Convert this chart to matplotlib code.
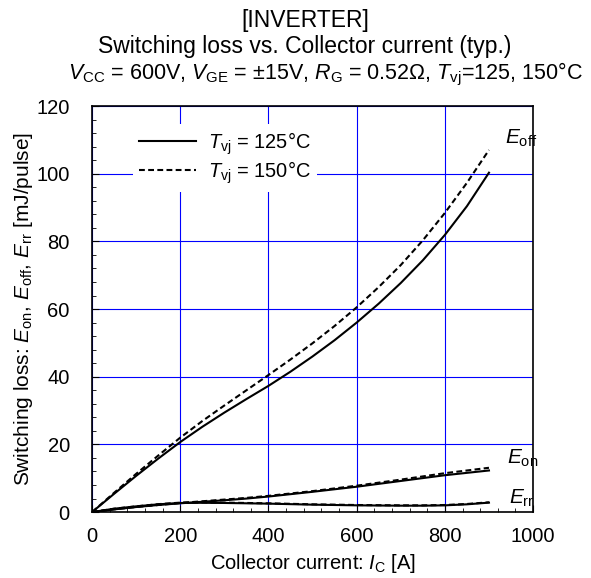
import matplotlib
matplotlib.use("Agg")
import matplotlib.pyplot as plt
from matplotlib.ticker import MultipleLocator

plt.rcParams['font.family'] = ['Liberation Sans', 'DejaVu Sans']
plt.rcParams['mathtext.fontset'] = 'custom'
plt.rcParams['mathtext.rm'] = 'Liberation Sans'
plt.rcParams['mathtext.it'] = 'Liberation Sans:italic'

# collector current [A]
ic = [0, 50, 100, 150, 200, 250, 300, 350, 400, 450, 500, 550, 600,
      650, 700, 750, 800, 850, 900]

# Eoff [mJ/pulse]
eoff_125 = [0, 5.4, 10.7, 15.8, 20.7, 25.2, 29.4, 33.4, 37.3, 41.5, 46.0, 50.8, 56.0,
            61.6, 67.7, 74.4, 81.9, 90.4, 100.3]
eoff_150 = [0, 5.7, 11.3, 16.7, 22.0, 26.9, 31.5, 36.0, 40.5, 45.1, 49.9, 55.0, 60.5,
            66.5, 73.0, 80.3, 88.4, 97.3, 107.0]

# Eon
eon_125 = [0, 0.8, 1.5, 2.1, 2.6, 3.05, 3.5, 4.0, 4.6, 5.3, 6.0, 6.75, 7.5,
           8.35, 9.2, 10.05, 10.9, 11.6, 12.3]
eon_150 = [0, 0.8, 1.5, 2.1, 2.7, 3.2, 3.7, 4.2, 4.8, 5.5, 6.2, 7.0, 7.8,
           8.7, 9.6, 10.55, 11.5, 12.3, 13.1]

# Err
err_125 = [0, 1.0, 1.7, 2.3, 2.7, 2.75, 2.7, 2.6, 2.5, 2.35, 2.2, 2.1, 2.0,
           1.95, 1.9, 1.9, 2.0, 2.3, 2.8]
err_150 = [0, 1.0, 1.7, 2.35, 2.8, 2.85, 2.8, 2.7, 2.6, 2.45, 2.3, 2.2, 2.1,
           2.05, 2.0, 2.0, 2.1, 2.4, 2.9]

dash = (0, (2.8, 1.6))

fig = plt.figure(figsize=(5.91, 5.78), dpi=100)
ax = fig.add_axes([0.1557, 0.114, 0.7463, 0.7026])

ax.grid(True, which='major', color='#0000ff', linewidth=0.8)
ax.set_axisbelow(True)

ax.plot(ic, eoff_125, color='black', lw=1.5, label=r'$\mathit{T}_{\mathrm{vj}}$ = 125°C')
ax.plot(ic, eoff_150, color='black', lw=1.5, ls=dash, label=r'$\mathit{T}_{\mathrm{vj}}$ = 150°C')
ax.plot(ic, eon_125, color='black', lw=1.5)
ax.plot(ic, eon_150, color='black', lw=1.5, ls=dash)
ax.plot(ic, err_125, color='black', lw=1.5)
ax.plot(ic, err_150, color='black', lw=1.5, ls=dash)

ax.set_xlim(0, 1000)
ax.set_ylim(0, 120)
ax.xaxis.set_major_locator(MultipleLocator(200))
ax.xaxis.set_minor_locator(MultipleLocator(40))
ax.yaxis.set_major_locator(MultipleLocator(20))
ax.yaxis.set_minor_locator(MultipleLocator(4))
ax.tick_params(which='both', direction='in', labelsize=14.5)
ax.tick_params(which='major', length=5)
ax.tick_params(which='minor', length=3)
ax.tick_params(axis='x', pad=11)
ax.tick_params(axis='y', pad=16)
for s in ax.spines.values():
    s.set_linewidth(1.2)

ax.set_xlabel(r'Collector current: $\mathit{I}_{\mathrm{C}}$ [A]', fontsize=14.5, labelpad=4)
ax.set_ylabel(r'Switching loss: $\mathit{E}_{\mathrm{on}}$, $\mathit{E}_{\mathrm{off}}$, $\mathit{E}_{\mathrm{rr}}$ [mJ/pulse]',
              fontsize=15, labelpad=1)

ax.text(936, 110.5, r'$\mathit{E}_{\mathrm{off}}$', fontsize=15, ha='left', va='center')
ax.text(941, 16, r'$\mathit{E}_{\mathrm{on}}$', fontsize=15, ha='left', va='center')
ax.text(945, 4.1, r'$\mathit{E}_{\mathrm{rr}}$', fontsize=15, ha='left', va='center')

leg = ax.legend(loc='upper left', bbox_to_anchor=(0.07, 0.98), frameon=True, fancybox=False,
                facecolor='white', edgecolor='none', framealpha=1, fontsize=14.4,
                handlelength=2.85, handletextpad=0.6, labelspacing=0.12, borderpad=0.3)

fig.text(0.516, 0.953, '[INVERTER]', ha='center', va='baseline', fontsize=16.5)
fig.text(0.516, 0.908, 'Switching loss vs. Collector current (typ.)', ha='center', va='baseline', fontsize=16.5)
fig.text(0.55, 0.862,
         r'$\mathit{V}_{\mathrm{CC}}$ = 600V, $\mathit{V}_{\mathrm{GE}}$ = ±15V, $\mathit{R}_{\mathrm{G}}$ = 0.52Ω, $\mathit{T}_{\mathrm{vj}}$=125, 150°C',
         ha='center', va='baseline', fontsize=15.5)

fig.savefig('out.png', dpi=100)
